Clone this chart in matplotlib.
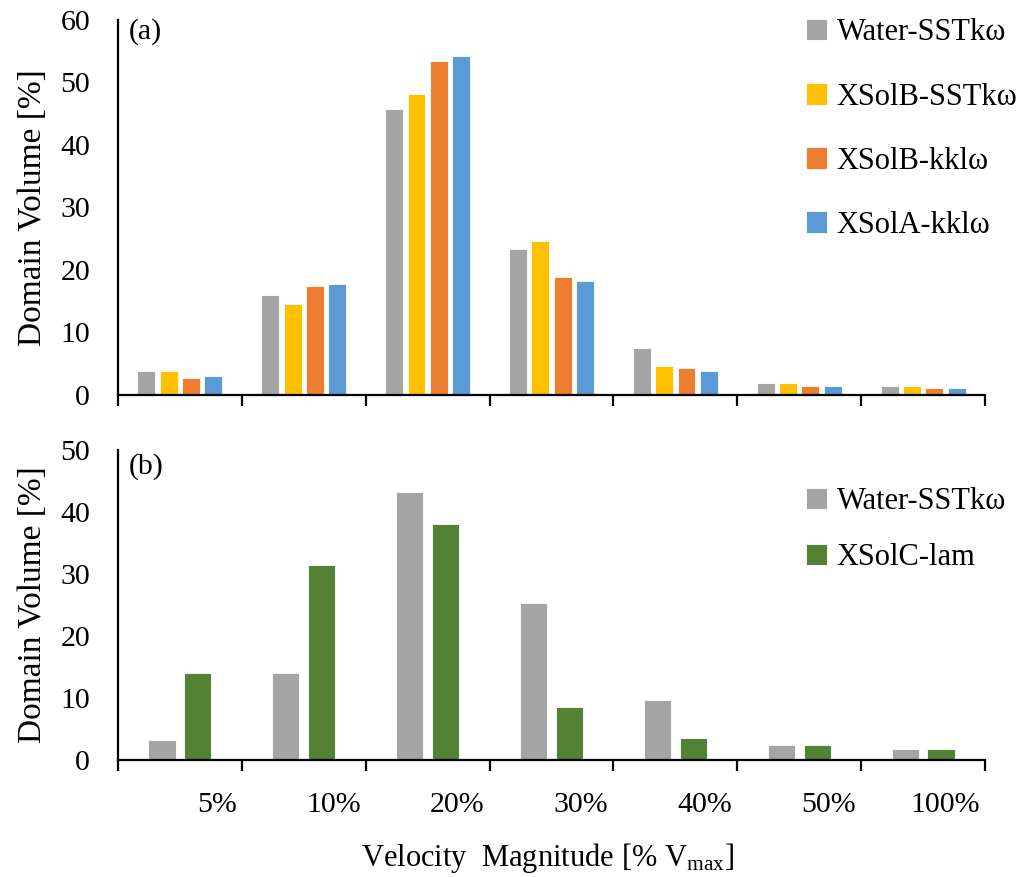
import numpy as np
import matplotlib
matplotlib.use("Agg")
import matplotlib.pyplot as plt
from matplotlib.ticker import FixedLocator, NullFormatter

plt.rcParams["font.family"] = ["Liberation Serif", "DejaVu Serif"]
plt.rcParams["mathtext.fontset"] = "stix"

# velocity bins (percent of V_max)
bins = ["5%", "10%", "20%", "30%", "40%", "50%", "100%"]

# (a) turbulence models
water_sst = [3.8, 16.0, 45.8, 23.4, 7.5, 1.9, 1.5]
xsolb_sst = [3.8, 14.6, 48.2, 24.6, 4.7, 1.9, 1.5]
xsolb_kkl = [2.7, 17.4, 53.5, 18.9, 4.4, 1.5, 1.1]
xsola_kkl = [3.1, 17.7, 54.3, 18.3, 3.8, 1.5, 1.1]

# (b) laminar case
water_sst_b = [3.2, 14.1, 43.2, 25.4, 9.6, 2.4, 1.7]
xsolc_lam = [14.1, 31.5, 38.0, 8.5, 3.6, 2.4, 1.7]

names_a = ["Water-SSTk\u03c9", "XSolB-SSTk\u03c9", "XSolB-kkl\u03c9", "XSolA-kkl\u03c9"]
names_b = ["Water-SSTk\u03c9", "XSolC-lam"]
colors_a = ["#A5A5A5", "#FFC000", "#ED7D31", "#5B9BD5"]
colors_b = ["#A5A5A5", "#548235"]

fig = plt.figure(figsize=(10.25, 8.77), dpi=100)
ax1 = fig.add_axes([0.1151, 0.5496, 0.8459, 0.4276])
ax2 = fig.add_axes([0.1151, 0.1334, 0.8459, 0.3535])

x = np.arange(len(bins))

def style(ax, ymax, step, show_labels):
    ax.set_xlim(-0.5, len(bins) - 0.5)
    ax.set_ylim(0, ymax)
    ax.set_yticks(np.arange(0, ymax + 1, step))
    for s in ["top", "right"]:
        ax.spines[s].set_visible(False)
    for s in ["left", "bottom"]:
        ax.spines[s].set_linewidth(1.6)
    ax.tick_params(axis="y", length=0, pad=20, labelsize=21.5)
    # tick marks on the bin boundaries
    ax.xaxis.set_major_locator(FixedLocator(np.arange(-0.5, len(bins), 1.0)))
    ax.xaxis.set_major_formatter(NullFormatter())
    ax.tick_params(axis="x", which="major", length=8, width=1.6, direction="out")
    if show_labels:
        for i, lab in enumerate(bins):
            ax.text(i + 0.46, -0.104, lab, transform=ax.get_xaxis_transform(),
                    ha="right", va="top", fontsize=21.5)
    ax.set_ylabel("Domain Volume [%]", fontsize=24, labelpad=9)

legend_kw = dict(loc="upper left", frameon=False, fontsize=22,
                 handlelength=0.7, handleheight=0.7, handletextpad=0.3,
                 borderpad=0)

# (a)
w, p = 0.145, 0.18
series_a = [water_sst, xsolb_sst, xsolb_kkl, xsola_kkl]
for k, (vals, c, n) in enumerate(zip(series_a, colors_a, names_a)):
    ax1.bar(x + (k - 1.5) * p, vals, width=w, color=c, label=n,
            edgecolor="white", linewidth=0.6)
style(ax1, 60, 10, False)
ax1.text(0.012, 1.005, "(a)", transform=ax1.transAxes, fontsize=21.5, va="top")
ax1.legend(bbox_to_anchor=(0.776, 1.045), labelspacing=1.15, **legend_kw)

# (b)
w, p = 0.22, 0.29
series_b = [water_sst_b, xsolc_lam]
for k, (vals, c, n) in enumerate(zip(series_b, colors_b, names_b)):
    ax2.bar(x + (k - 0.5) * p, vals, width=w, color=c, label=n,
            edgecolor="white", linewidth=0.6)
style(ax2, 50, 10, True)
ax2.text(0.012, 0.99, "(b)", transform=ax2.transAxes, fontsize=21.5, va="top")
ax2.legend(bbox_to_anchor=(0.776, 0.93), labelspacing=0.9, **legend_kw)

fig.text(0.535, 0.012, r"Velocity  Magnitude [% V$_{\mathregular{max}}$]",
         ha="center", va="baseline", fontsize=22)
fig.align_ylabels([ax1, ax2])

fig.savefig("out.png", dpi=100)
